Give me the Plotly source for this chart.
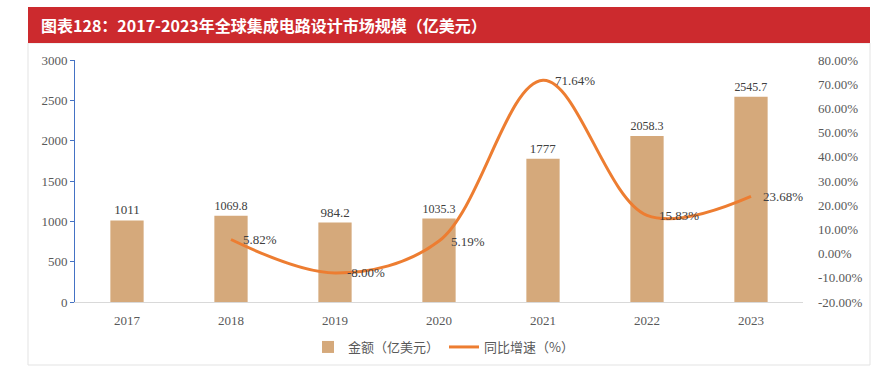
import plotly.graph_objects as go

years = ["2017", "2018", "2019", "2020", "2021", "2022", "2023"]
amount = [1011, 1069.8, 984.2, 1035.3, 1777, 2058.3, 2545.7]
amount_labels = ["1011", "1069.8", "984.2", "1035.3", "1777", "2058.3", "2545.7"]
growth_years = ["2018", "2019", "2020", "2021", "2022", "2023"]
growth = [5.82, -8.00, 5.19, 71.64, 15.83, 23.68]
growth_labels = ["5.82%", "-8.00%", "5.19%", "71.64%", "15.83%", "23.68%"]
left_ticks = [0, 500, 1000, 1500, 2000, 2500, 3000]
right_ticks = [-20, -10, 0, 10, 20, 30, 40, 50, 60, 70, 80]

title_text = "图表128：2017-2023年全球集成电路设计市场规模（亿美元）"
bar_name = "金额（亿美元）"
line_name = "同比增速（%）"

serif = "Liberation Serif, Times New Roman, serif"
cjk = "Noto Sans CJK SC, sans-serif"

fig = go.Figure()
fig.add_trace(go.Bar(
    x=years, y=amount, name=bar_name,
    marker=dict(color="#D5A97B", line=dict(width=0)),
    width=0.32,
    text=amount_labels, textposition="outside", cliponaxis=False,
    textfont=dict(family=serif, size=13, color="#404040"),
))
fig.add_trace(go.Scatter(
    x=growth_years, y=growth, name=line_name, yaxis="y2",
    mode="lines",
    line=dict(color="#ED7D31", width=3, shape="spline", smoothing=1.0),
    cliponaxis=False,
))

# category axis: annotations are placed by category index
line_annotations = [
    dict(x=years.index(xv), y=yv, xref="x", yref="y2", text=t, showarrow=False,
         xanchor="left", yanchor="middle", xshift=10,
         font=dict(family=serif, size=13, color="#404040"))
    for xv, yv, t in zip(growth_years, growth, growth_labels)
]

fig.update_layout(
    width=887, height=368,
    margin=dict(l=75, r=84, t=60, b=66, autoexpand=False),
    paper_bgcolor="white", plot_bgcolor="white",
    showlegend=True,
    bargap=0.68,
    legend=dict(orientation="h", x=0.5, xref="container", xanchor="center",
                y=1 - 347 / 368, yref="container", yanchor="middle",
                font=dict(family=cjk, size=13, color="#595959"),
                itemwidth=30, tracegroupgap=0),
    xaxis=dict(
        type="category", showgrid=False, zeroline=False, automargin=False,
        range=[-0.5, len(years) - 0.5],
        showline=True, linecolor="#D9D9D9", linewidth=1,
        ticks="", tickfont=dict(family=serif, size=13, color="#595959"),
        ticklabelstandoff=6,
    ),
    yaxis=dict(
        range=[0, 3000], tickvals=left_ticks, automargin=False,
        showgrid=False, zeroline=False,
        showline=True, linecolor="#4472C4", linewidth=1,
        ticks="outside", tickcolor="#4472C4", ticklen=4,
        tickfont=dict(family=serif, size=13, color="#595959"),
    ),
    yaxis2=dict(
        range=[-20, 80], overlaying="y", side="right", automargin=False,
        tickvals=right_ticks, ticktext=[f"{v:.2f}%" for v in right_ticks],
        showgrid=False, zeroline=False, showline=False,
        ticks="", ticklabelstandoff=14,
        tickfont=dict(family=serif, size=13, color="#595959"),
    ),
    shapes=[
        dict(type="rect", xref="paper", yref="paper",
             x0=(28 - 75) / 728, x1=(870 - 75) / 728,
             y0=(302 - 365) / 242, y1=(302 - 43) / 242,
             line=dict(color="#E3E3E3", width=1), fillcolor="rgba(0,0,0,0)",
             layer="below"),
        dict(type="rect", xref="paper", yref="paper",
             x0=(28 - 75) / 728, x1=(870 - 75) / 728,
             y0=(302 - 43) / 242, y1=(302 - 7) / 242,
             line=dict(width=0), fillcolor="#CC2A2E", layer="below"),
    ],
    annotations=[
        dict(text=f"<b>{title_text}</b>", xref="paper", yref="paper",
             x=(39 - 75) / 728, y=(302 - 25) / 242, xanchor="left", yanchor="middle",
             showarrow=False, font=dict(family=cjk, size=16, color="white")),
    ] + line_annotations,
)

fig.write_html("out.html",
               config={"displayModeBar": False},
               post_script="document.body.style.margin='0';document.body.style.overflow='hidden';")
